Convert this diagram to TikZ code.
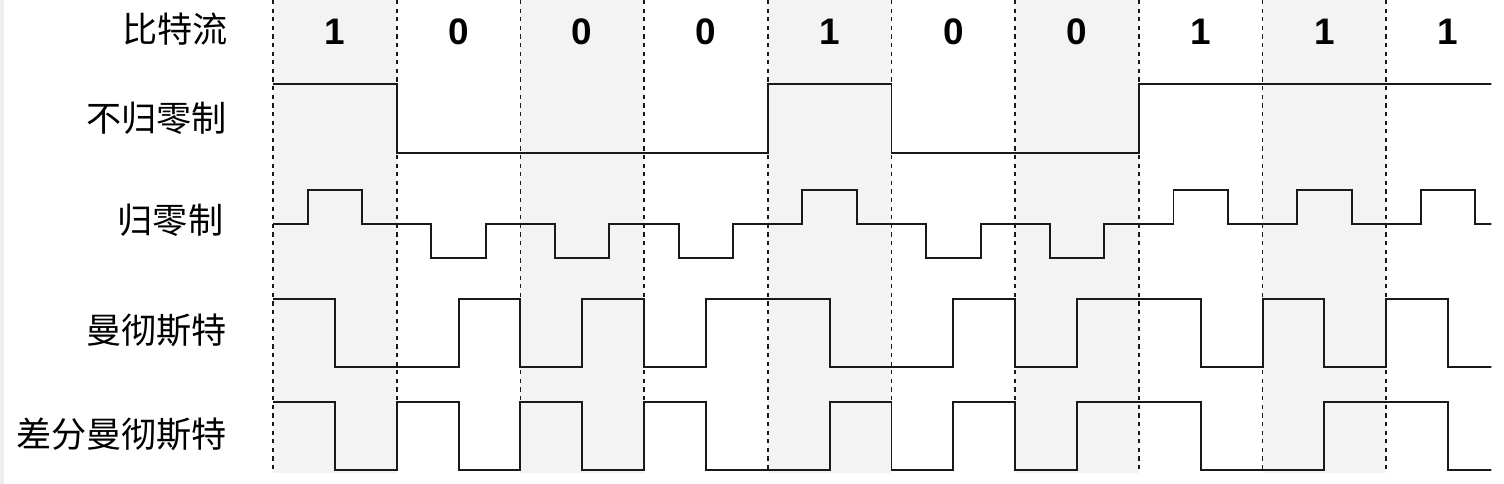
\documentclass[tikz,border=0pt]{standalone}
\usepackage{fontspec}
\setmainfont{Liberation Sans}
\newfontfamily\cjk{Noto Sans CJK SC}
\usepackage{xcolor}
\definecolor{shade}{HTML}{F3F3F3}
\definecolor{rim}{HTML}{EEEEEE}
\tikzset{
  % a grey bit column and the dashed bit borders
  colshade/.style={fill=shade, draw=none},
  bitedge/.style={draw=black!90, line width=0.95pt, dash pattern=on 2.4pt off 2.5pt},
  % the coded signals
  wave/.style={draw=black!90, line width=1.1pt, line join=miter},
  % texts
  bitval/.style={font=\fontsize{21}{24}\selectfont\bfseries, inner sep=0pt},
  rowname/.style={font=\cjk\fontsize{20}{24}\selectfont, anchor=east, inner sep=0pt},
}
\newcommand{\shadecol}[1]{%
  \fill[colshade] (#1,0) rectangle (#1+1,-9.46);
  \draw[bitedge] (#1,0) -- (#1,-9.46);
  \draw[bitedge] (#1+1,0) -- (#1+1,-9.46);}
\newcommand{\rzbit}[2]{%
  \draw[wave] (#1,-4.48) -- (#1+0.28,-4.48) |- (#1+0.72,#2) |- (#1+1,-4.48);}

\begin{document}
\begin{tikzpicture}[x=2.474cm, y=1cm]

  \useasboundingbox (-2.207,0) rectangle (9.952,-9.68);
  \fill[rim] (-2.207,0) rectangle (-2.175,-9.68);

  \shadecol{0}
  \shadecol{2}
  \shadecol{4}
  \shadecol{6}
  \shadecol{8}

  % row names
  \node[rowname] (bits) at (-0.36,-0.58) {比特流};
  \node[rowname] (nrz)  at (-0.37,-2.36) {不归零制};
  \node[rowname] (rz)   at (-0.40,-4.40) {归零制};
  \node[rowname] (man)  at (-0.37,-6.60) {曼彻斯特};
  \node[rowname] (dman) at (-0.37,-8.68) {差分曼彻斯特};

  % bit values
  \node[bitval] (b1)  at (0.5,-0.64) {1};
  \node[bitval] (b2)  at (1.5,-0.64) {0};
  \node[bitval] (b3)  at (2.5,-0.64) {0};
  \node[bitval] (b4)  at (3.5,-0.64) {0};
  \node[bitval] (b5)  at (4.5,-0.64) {1};
  \node[bitval] (b6)  at (5.5,-0.64) {0};
  \node[bitval] (b7)  at (6.5,-0.64) {0};
  \node[bitval] (b8)  at (7.5,-0.64) {1};
  \node[bitval] (b9)  at (8.5,-0.64) {1};
  \node[bitval] (b10) at (9.5,-0.64) {1};

  \begin{scope}
    \clip (-0.1,0) rectangle (9.85,-9.68);

    % non return to zero
    \draw[wave] (0,-1.68) -| (1,-3.06) -| (4,-1.68) -| (5,-3.06) -| (7,-1.68) -- (10,-1.68);

    % return to zero
    \rzbit{0}{-3.80}
    \rzbit{1}{-5.16}
    \rzbit{2}{-5.16}
    \rzbit{3}{-5.16}
    \rzbit{4}{-3.80}
    \rzbit{5}{-5.16}
    \rzbit{6}{-5.16}
    \rzbit{7}{-3.80}
    \rzbit{8}{-3.80}
    \rzbit{9}{-3.80}

    % manchester
    \draw[wave] (0,-5.98) -| (0.5,-7.34) -| (1.5,-5.98) -| (2,-7.34) -| (2.5,-5.98)
      -| (3,-7.34) -| (3.5,-5.98) -| (4.5,-7.34) -| (5.5,-5.98) -| (6,-7.34)
      -| (6.5,-5.98) -| (7.5,-7.34) -| (8,-5.98) -| (8.5,-7.34) -| (9,-5.98)
      -| (9.5,-7.34) -- (10,-7.34);

    % differential manchester
    \draw[wave] (0,-8.04) -| (0.5,-9.40) -| (1,-8.04) -| (1.5,-9.40) -| (2,-8.04)
      -| (2.5,-9.40) -| (3,-8.04) -| (3.5,-9.40) -| (4.5,-8.04) -| (5,-9.40)
      -| (5.5,-8.04) -| (6,-9.40) -| (6.5,-8.04) -| (7.5,-9.40) -| (8.5,-8.04)
      -| (9.5,-9.40) -- (10,-9.40);
  \end{scope}

\end{tikzpicture}
\end{document}
